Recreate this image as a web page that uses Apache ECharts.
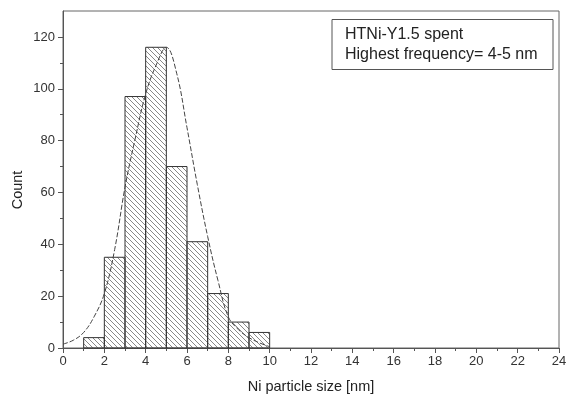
<!DOCTYPE html>
<html>
<head>
<meta charset="utf-8">
<script src="https://cdn.jsdelivr.net/npm/echarts@6/dist/echarts.min.js"></script>
<style>
  html, body {margin: 0; padding: 0; background: #fff;}
  #main {width: 569px; height: 396px;}
</style>
</head>
<body>
<div id="main"></div>
<script>
// histogram bins [nm] and counts
const binStart = [1, 2, 3, 4, 5, 6, 7, 8, 9];
const binEnd   = [2, 3, 4, 5, 6, 7, 8, 9, 10];
const counts   = [4, 35, 97, 116, 70, 41, 21, 10, 6];

// fitted distribution curve
const curveX = [0, 0.5, 1, 1.5, 2, 2.5, 3, 3.5, 4, 4.5, 5, 5.5, 6, 6.5, 7, 7.5, 8, 8.5, 9, 9.5, 10];
const curveY = [1.5, 3, 6, 12, 21, 38, 62, 81, 98, 109, 116, 106, 85, 63, 43, 26, 12, 7, 4, 2, 0.5];

const xTicks = [0, 2, 4, 6, 8, 10, 12, 14, 16, 18, 20, 22, 24];
const yTicks = [0, 20, 40, 60, 80, 100, 120];
const yMinorTicks = [10, 30, 50, 70, 90, 110];

const boxLines = ['HTNi-Y1.5 spent', 'Highest frequency= 4-5 nm'];

const FONT = '"Liberation Sans", Arial, sans-serif';

// diagonal hatch pattern
function hatch() {
  const c = document.createElement('canvas');
  const s = 5;
  c.width = s; c.height = s;
  const g = c.getContext('2d');
  g.strokeStyle = '#7a7a7a';
  g.lineWidth = 0.9;
  g.beginPath();
  g.moveTo(-1, -1); g.lineTo(s + 1, s + 1);
  g.moveTo(-1, s - 1); g.lineTo(1, s + 1);
  g.moveTo(s - 1, -1); g.lineTo(s + 1, 1);
  g.stroke();
  return c;
}
const pattern = {image: hatch(), repeat: 'repeat'};

const barData = binStart.map((b, i) => [b, binEnd[i], counts[i]]);
const curveData = curveX.map((x, i) => [x, curveY[i]]);

const chart = echarts.init(document.getElementById('main'));
chart.setOption({
  animation: false,
  backgroundColor: '#fff',
  textStyle: {fontFamily: FONT},
  grid: {
    left: 63, right: 10, top: 11, bottom: 48,
    outerBoundsMode: 'none',
    show: true, borderColor: '#666', borderWidth: 1
  },
  xAxis: {
    type: 'value',
    min: 0, max: 24, interval: 2,
    name: 'Ni particle size [nm]',
    nameLocation: 'middle',
    nameGap: 31,
    nameTextStyle: {fontSize: 14.5, color: '#222', fontFamily: FONT},
    axisLine: {lineStyle: {color: '#555', width: 1}},
    axisTick: {inside: false, length: 5, lineStyle: {color: '#555'}},
    minorTick: {show: true, splitNumber: 2, length: 3, lineStyle: {color: '#555'}},
    axisLabel: {
      customValues: xTicks,
      fontSize: 13, color: '#333', margin: 7, fontFamily: FONT
    },
    splitLine: {show: false}
  },
  yAxis: [{
    type: 'value',
    min: 0, max: 130,
    axisLine: {show: true, lineStyle: {color: '#555', width: 1}},
    axisTick: {show: true, customValues: yTicks, inside: false, length: 5, lineStyle: {color: '#555'}},
    axisLabel: {customValues: yTicks, fontSize: 13, color: '#333', margin: 8, fontFamily: FONT},
    splitLine: {show: false}
  }, {
    type: 'value',
    min: 0, max: 130,
    position: 'left',
    axisLine: {show: false},
    axisTick: {show: true, customValues: yMinorTicks, inside: false, length: 3, lineStyle: {color: '#555'}},
    axisLabel: {show: false},
    splitLine: {show: false}
  }],
  graphic: [
    {
      type: 'text',
      x: 18, y: 190,
      rotation: Math.PI / 2,
      style: {
        text: 'Count', fontSize: 14.5, fill: '#222', fontFamily: FONT,
        align: 'center', verticalAlign: 'middle'
      }
    },
    {
      type: 'rect',
      shape: {x: 332, y: 19.5, width: 221, height: 50},
      style: {fill: '#fff', stroke: '#555', lineWidth: 1},
      z: 10
    },
    {
      type: 'text',
      x: 345, y: 25,
      style: {
        text: boxLines.join('\n'), fontSize: 16, lineHeight: 20,
        fill: '#222', fontFamily: FONT
      },
      z: 11
    }
  ],
  series: [
    {
      type: 'custom',
      data: barData,
      encode: {x: [0, 1], y: 2},
      renderItem(params, api) {
        const p0 = api.coord([api.value(0), api.value(2)]);
        const p1 = api.coord([api.value(1), 0]);
        return {
          type: 'rect',
          shape: {x: p0[0], y: p0[1], width: p1[0] - p0[0], height: p1[1] - p0[1]},
          style: {fill: pattern, stroke: '#333', lineWidth: 1}
        };
      },
      z: 2
    },
    {
      type: 'line',
      data: curveData,
      smooth: 0.4,
      showSymbol: false,
      lineStyle: {color: '#444', width: 1, type: [5, 2]},
      z: 3
    }
  ]
});
</script>
</body>
</html>
